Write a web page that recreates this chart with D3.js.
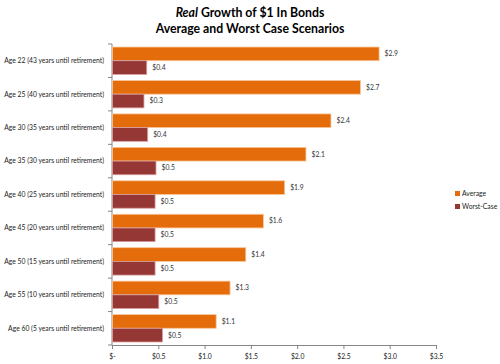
<!DOCTYPE html>
<html><head><meta charset="utf-8">
<script src="https://cdn.jsdelivr.net/npm/d3@7"></script>
<style>body{margin:0;background:#fff;}svg{display:block;font-family:Lato,"Open Sans",sans-serif;}</style>
</head><body><svg id="c" width="500" height="364"></svg>
<script>
const categories = ["Age 22 (43 years until retirement)","Age 25 (40 years until retirement)","Age 30 (35 years until retirement)","Age 35 (30 years until retirement)","Age 40 (25 years until retirement)","Age 45 (20 years until retirement)","Age 50 (15 years until retirement)","Age 55 (10 years until retirement)","Age 60 (5 years until retirement)"];
const averageValues = [2.88,2.68,2.36,2.09,1.86,1.63,1.44,1.27,1.12];
const worstValues = [0.37,0.34,0.38,0.47,0.46,0.46,0.46,0.50,0.54];
const seriesNames = ["Average","Worst-Case"];
const xTicks = [0,0.5,1.0,1.5,2.0,2.5,3.0,3.5];
const xTickLabels = ["$-","$0.5","$1.0","$1.5","$2.0","$2.5","$3.0","$3.5"];
const colors = ["#E46C0A","#953735"];

const svg = d3.select("#c");
// measure font to match Calibri-like widths
function measure(str, size, weight){
  const tt = svg.append("text").attr("font-size",size).attr("font-weight",weight||"normal").text(str);
  const w = tt.node().getComputedTextLength(); tt.remove(); return w;
}
const fs = Math.min(9, 10 * 100 / measure(categories[0],10));
const tfs = Math.min(15, 10 * 189 / measure("Average and Worst Case Scenarios",10,"bold"));

const m = {l:112, r:436, t:44, b:345};
const x = d3.scaleLinear().domain([0,3.5]).range([m.l,m.r]);
const y = d3.scaleBand().domain(categories).range([m.t,m.b]).paddingInner(0).paddingOuter(0);
const inner = d3.scaleBand().domain([0,1]).range([0,y.bandwidth()]).paddingInner(0).paddingOuter(0.22);

// title
const t = svg.append("text").attr("x",250).attr("y",17).attr("text-anchor","middle")
  .attr("font-size",tfs).attr("font-weight","bold").attr("fill","#000");
t.append("tspan").attr("font-style","italic").text("Real");
t.append("tspan").text(" Growth of $1 In Bonds");
svg.append("text").attr("x",250).attr("y",33).attr("text-anchor","middle")
  .attr("font-size",tfs).attr("font-weight","bold").attr("fill","#000").text("Average and Worst Case Scenarios");

// y axis
const yAxis = svg.append("g").attr("transform",`translate(${m.l},0)`);
yAxis.append("line").attr("x1",0).attr("x2",0).attr("y1",m.t).attr("y2",m.b).attr("stroke","#868686");
const bounds = categories.map(c=>y(c)).concat([m.b]);
yAxis.selectAll("line.tk").data(bounds).join("line").attr("class","tk")
  .attr("x1",-4).attr("x2",0).attr("y1",d=>d).attr("y2",d=>d).attr("stroke","#868686");
yAxis.selectAll("text").data(categories).join("text")
  .attr("x",-8).attr("y",d=>y(d)+y.bandwidth()/2).attr("dy","0.35em")
  .attr("text-anchor","end").attr("font-size",fs).attr("fill","#222").text(d=>d);

// x axis
const xAxis = svg.append("g").attr("transform",`translate(0,${m.b})`)
  .call(d3.axisBottom(x).tickValues(xTicks).tickSize(4).tickFormat((d,i)=>xTickLabels[i]));
xAxis.attr("font-family",null);
xAxis.select(".domain").attr("stroke","#868686");
xAxis.selectAll(".tick line").attr("stroke","#868686");
xAxis.selectAll(".tick text").attr("font-size",fs).attr("fill","#222").attr("dy","1.1em");

// bars
const fmt = d3.format(".1f");
[averageValues, worstValues].forEach((vals,si)=>{
  const g = svg.append("g");
  g.selectAll("rect").data(vals).join("rect")
    .attr("x",x(0)+0.5).attr("y",(d,i)=>y(categories[i])+inner(si))
    .attr("width",d=>x(d)-x(0)).attr("height",inner.bandwidth())
    .attr("fill",colors[si]).attr("stroke",si===0?"#F9C89E":"#D9A0A0").attr("stroke-width",0.8);
  g.selectAll("text").data(vals).join("text")
    .attr("x",d=>x(d)+6).attr("y",(d,i)=>y(categories[i])+inner(si)+inner.bandwidth()/2).attr("dy","0.35em")
    .attr("font-size",fs).attr("fill","#333").text(d=>"$"+fmt(d));
});

// legend
const lg = svg.append("g").attr("transform","translate(455,191)");
seriesNames.forEach((n,i)=>{
  lg.append("rect").attr("x",0).attr("y",i*13).attr("width",5).attr("height",5).attr("fill",colors[i]);
  lg.append("text").attr("x",7).attr("y",i*13+2.5).attr("dy","0.35em").attr("font-size",fs).attr("fill","#222").text(n);
});
</script></body></html>
